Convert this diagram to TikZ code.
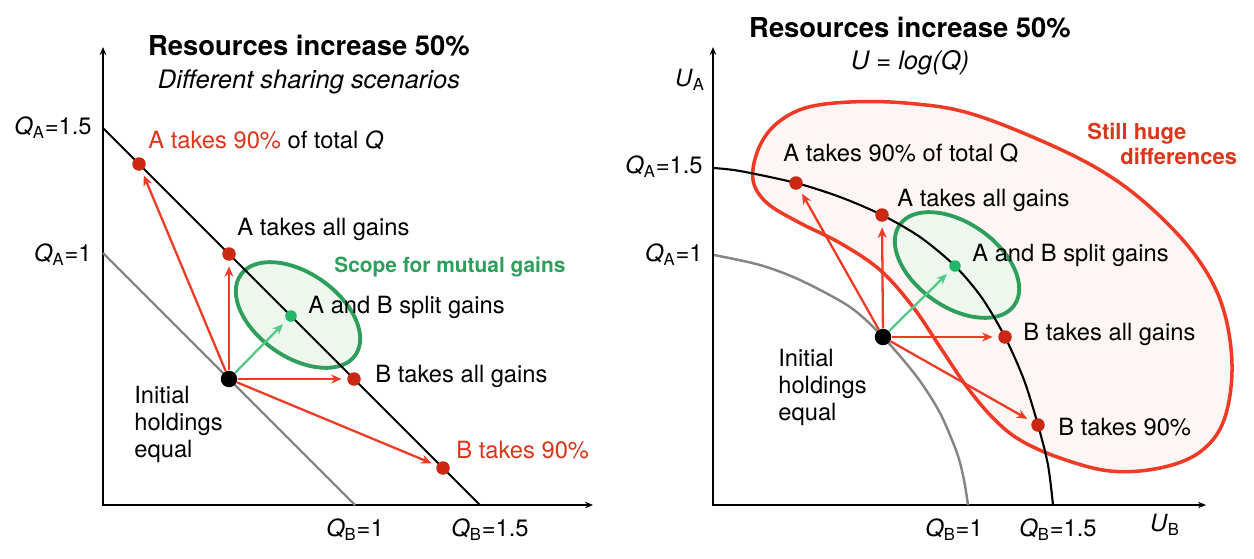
\documentclass[tikz,border=0pt]{standalone}
\usepackage{fontspec}
\setmainfont{TeX Gyre Heros}
\usetikzlibrary{arrows.meta}

\definecolor{redln}{HTML}{EF3B25}
\definecolor{reddot}{HTML}{C92812}
\definecolor{redtxt}{HTML}{D9361C}
\definecolor{grn}{HTML}{2E9F5B}
\definecolor{grnarr}{HTML}{52C986}
\definecolor{grndot}{HTML}{20B766}
\definecolor{grnfill}{HTML}{EDF7EE}
\definecolor{blobfill}{HTML}{FEF6F5}
\definecolor{frontgray}{HTML}{858585}

\begin{document}
\begin{tikzpicture}[x=0.02cm, y=-0.02cm,
    lbl/.style={font=\fontsize{13.5}{15.3}\selectfont, inner sep=0pt, anchor=base west},
    axlbl/.style={font=\fontsize{13.5}{15.3}\selectfont, inner sep=0pt},
    ttl/.style={font=\fontsize{15.6}{18}\selectfont\bfseries, inner sep=0pt},
    subttl/.style={font=\fontsize{14.5}{17}\selectfont\itshape, inner sep=0pt},
    axis/.style={line width=1.1pt, {Stealth[length=0.16cm,width=0.13cm]}-{Stealth[length=0.16cm,width=0.13cm]}},
    front/.style={line width=1.2pt},
    oldfront/.style={line width=1.4pt, frontgray},
    mutual/.style={draw=grn, line width=2.2pt, fill=grnfill},
    blob/.style={draw=redln, line width=2pt, fill=blobfill},
    rdot/.style={circle, fill=reddot, inner sep=0pt, minimum size=0.27cm},
    gdot/.style={circle, fill=grndot, inner sep=0pt, minimum size=0.23cm},
    bdot/.style={circle, fill=black, inner sep=0pt, minimum size=0.33cm},
    rarr/.style={redln, line width=1.3pt, -{Stealth[length=0.21cm,width=0.18cm]}, shorten >=3pt},
    garr/.style={grnarr, line width=1.3pt, -{Stealth[length=0.21cm,width=0.18cm]}, shorten >=3pt}]
    \useasboundingbox (0,0) rectangle (1254,558);

    \coordinate (ytopl) at (103,47);
    \coordinate (xendl) at (593,505);
    \draw[axis] (ytopl) |- (xendl);
    \draw[mutual, rotate around={-35:(298,315)}] (298,315) ellipse (70 and 42);
    \draw[oldfront] (103,253) -- (355,505);
    \draw[front] (103,128) -- (480,505);
    \node[rdot] (a90l) at (139,164) {};
    \node[rdot] (alll) at (229,254) {};
    \node[gdot] (splitl) at (291,316) {};
    \node[rdot] (blll) at (354,379) {};
    \node[rdot] (b90l) at (443,468) {};
    \node[bdot] (initl) at (229,379) {};
    \draw[rarr] (initl) edge (a90l);
    \draw[rarr] (initl) edge (alll);
    \draw[rarr] (initl) edge (blll);
    \draw[rarr] (initl) edge (b90l);
    \draw[garr] (initl) edge (splitl);
    \node[ttl] (ttll) at (309,46) {Resources increase 50\%};
    \node[subttl] (subl) at (309,82) {Different sharing scenarios};
    \node[axlbl, anchor=east] (qa15l) at (92,128) {\textit{Q}\textsubscript{A}=1.5};
    \node[axlbl, anchor=east] (qa1l) at (92,255) {\textit{Q}\textsubscript{A}=1};
    \node[axlbl] (qb1l) at (355,530) {\textit{Q}\textsubscript{B}=1};
    \node[axlbl] (qb15l) at (490,530) {\textit{Q}\textsubscript{B}=1.5};
    \node[lbl] (a90tl) at (148,148) {\textcolor{redtxt}{A takes 90\%} of total \textit{Q}};
    \node[lbl] (alltl) at (237,235) {A takes all gains};
    \node[lbl, font=\fontsize{11.9}{14}\selectfont\bfseries, text=grn] (scopetl) at (334,272) {Scope for mutual gains};
    \node[lbl] (splittl) at (308,313) {A and B split gains};
    \node[lbl] (blltl) at (375,382) {B takes all gains};
    \node[lbl, text=redtxt] (b90tl) at (456,458) {B takes 90\%};
    \node[lbl, anchor=north west, align=left] (inittl) at (134,386) {Initial\\holdings\\equal};

    \coordinate (ytopr) at (713,47);
    \coordinate (xendr) at (1206,505);
    \draw[axis] (ytopr) |- (xendr);
    \draw[blob] plot[smooth cycle, tension=0.6] coordinates {(753,180) (758,150) (775,125) (805,108) (850,102) (905,103) (965,112) (1035,138) (1100,170) (1150,207) (1195,255) (1222,305) (1232,365) (1224,420) (1200,452) (1160,468) (1110,471) (1060,458) (1020,440) (993,418) (967,387) (940,347) (913,307) (880,270) (840,243) (800,223) (767,203)};
    \draw[mutual, rotate around={-35:(957,265)}] (957,265) ellipse (70 and 42);
    \draw[oldfront] plot[smooth] coordinates {(714,255) (760,265) (800,280) (850,307) (883,337) (917,377) (940,413) (957,453) (964,480) (968,505)};
    \draw[front] plot[smooth] coordinates {(713,168) (740,171) (796,183) (840,197) (882,215) (920,237) (955,266) (982,298) (1005,337) (1024,380) (1038,425) (1048,465) (1053,505)};
    \node[rdot] (a90r) at (796,183) {};
    \node[rdot] (allr) at (882,215) {};
    \node[gdot] (splitr) at (955,266) {};
    \node[rdot] (bllr) at (1005,337) {};
    \node[rdot] (b90r) at (1038,425) {};
    \node[bdot] (initr) at (883,337) {};
    \draw[rarr] (initr) edge (a90r);
    \draw[rarr] (initr) edge (allr);
    \draw[rarr] (initr) edge (bllr);
    \draw[rarr] (initr) edge (b90r);
    \draw[garr] (initr) edge (splitr);
    \node[ttl] (ttlr) at (910,28) {Resources increase 50\%};
    \node[subttl] (subr) at (910,63) {U = log(Q)};
    \node[axlbl] (uar) at (690,80) {\textit{U}\textsubscript{A}};
    \node[axlbl] (ubr) at (1165,525) {\textit{U}\textsubscript{B}};
    \node[axlbl, anchor=east] (qa15r) at (703,167) {\textit{Q}\textsubscript{A}=1.5};
    \node[axlbl, anchor=east] (qa1r) at (703,255) {\textit{Q}\textsubscript{A}=1};
    \node[axlbl] (qb1r) at (954,530) {\textit{Q}\textsubscript{B}=1};
    \node[axlbl] (qb15r) at (1058,530) {\textit{Q}\textsubscript{B}=1.5};
    \node[lbl] (a90tr) at (783,161) {A takes 90\% of total Q};
    \node[lbl] (alltr) at (897,206) {A takes all gains};
    \node[lbl] (splittr) at (972,261) {A and B split gains};
    \node[lbl] (blltr) at (1023,340) {B takes all gains};
    \node[lbl] (b90tr) at (1058,435) {B takes 90\%};
    \node[lbl, anchor=north west, align=left, font=\fontsize{12.5}{14.2}\selectfont\bfseries, text=redtxt] (stillr) at (1087,123) {Still huge\\\hspace*{0.66cm}differences};
    \node[lbl, anchor=north west, align=left] (inittr) at (778,349) {Initial\\holdings\\equal};
\end{tikzpicture}
\end{document}
